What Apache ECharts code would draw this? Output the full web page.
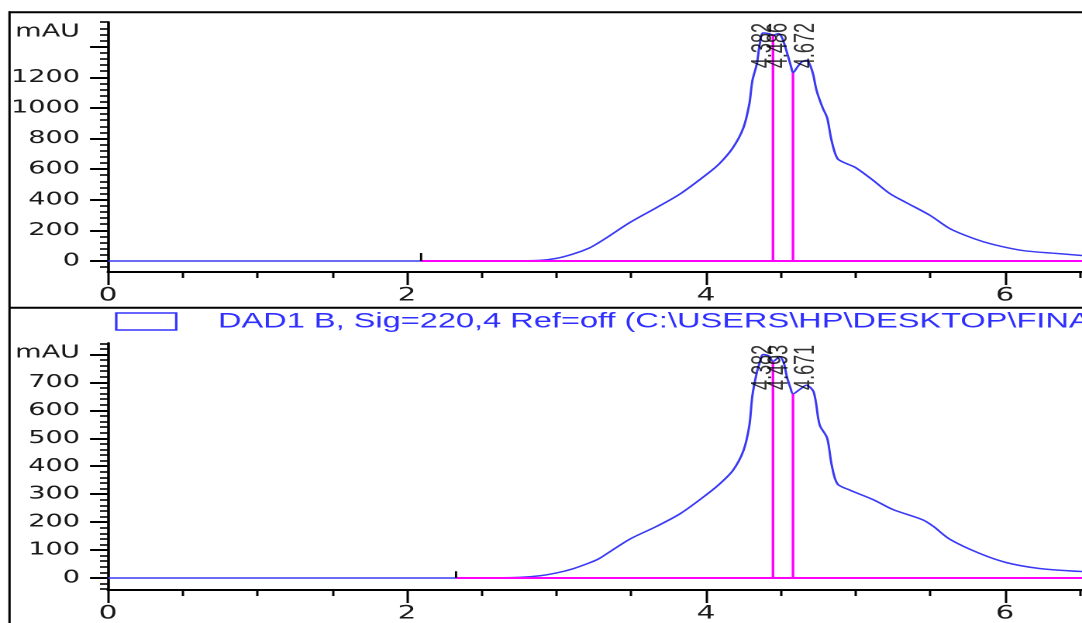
<!DOCTYPE html>
<html>
<head>
<meta charset="utf-8">
<script src="https://cdn.jsdelivr.net/npm/echarts@6/dist/echarts.min.js"></script>
<style>
html,body{margin:0;padding:0;background:#fff;overflow:hidden;width:1082px;height:623px}
#chart{width:698px;height:623px;transform:scaleX(1.55014);transform-origin:0 0}
</style>
</head>
<body>
<div id="chart"></div>
<script>
// ---------- data (retention time in min, signal in mAU) ----------
const timeTop = [0, 1.0, 2.0, 2.5, 2.75, 2.89, 3.0, 3.11, 3.22, 3.28, 3.34, 3.49, 3.67, 3.83, 4.01, 4.09, 4.18, 4.25, 4.29, 4.31, 4.34, 4.36, 4.382, 4.42, 4.448, 4.486, 4.51, 4.545, 4.57, 4.582, 4.61, 4.64, 4.672, 4.71, 4.74, 4.78, 4.81, 4.84, 4.88, 4.94, 5.0, 5.12, 5.23, 5.34, 5.5, 5.63, 5.79, 5.92, 6.12, 6.35, 6.515];
const signalTop = [0, 0, 0, 0, 1, 4, 17, 45, 85, 118, 155, 251, 349, 440, 570, 636, 740, 870, 1027, 1177, 1288, 1420, 1490, 1485, 1475, 1485, 1455, 1350, 1265, 1229, 1265, 1300, 1310, 1242, 1112, 1001, 936, 786, 668, 636, 610, 525, 440, 381, 297, 212, 147, 108, 68, 49, 36];

const timeBot = [0, 1.0, 2.0, 2.5, 2.75, 2.89, 3.0, 3.11, 3.22, 3.28, 3.34, 3.49, 3.67, 3.83, 4.01, 4.09, 4.18, 4.25, 4.29, 4.31, 4.34, 4.36, 4.382, 4.42, 4.448, 4.493, 4.52, 4.54, 4.565, 4.582, 4.63, 4.671, 4.72, 4.76, 4.81, 4.84, 4.88, 4.96, 5.12, 5.25, 5.45, 5.52, 5.63, 5.83, 6.01, 6.23, 6.515];
const signalBot = [0, 0, 0, 0, 2, 8, 18, 33, 54, 68, 88, 139, 185, 231, 301, 336, 385, 455, 546, 652, 736, 771, 800, 795, 775, 792, 770, 722, 680, 659, 676, 690, 666, 548, 501, 406, 336, 315, 280, 245, 208, 185, 139, 88, 55, 34, 23];

const peakTimesTop = [4.382, 4.486, 4.672];
const peakLabelsTop = ['4.382', '4.486', '4.672'];
const peakTimesBot = [4.382, 4.493, 4.671];
const peakLabelsBot = ['4.382', '4.493', '4.671'];
const labelBaseTop = 1260;
const labelBaseBot = 673;

const dropTimesTop = [4.448, 4.582];
const dropHeightsTop = [1475, 1229];
const dropTimesBot = [4.448, 4.582];
const dropHeightsBot = [775, 659];

const intStartTop = 2.094, intStartTickTop = 52;
const intStartBot = 2.328, intStartTickBot = 24;

const seriesNameTop = 'DAD1 A';
const seriesNameBot = 'DAD1 B, Sig=220,4 Ref=off (C:\\USERS\\HP\\DESKTOP\\FINA';

const xMin = 0, xMax = 6.515;
const xMajorTicks = [0, 2, 4, 6];
const xTickLabels = [0, 2, 4, 6];
const yTopRange = [-72, 1561];
const yTopMajorTicks = [0, 200, 400, 600, 800, 1000, 1200, 1400];
const yTopTickLabels = [0, 200, 400, 600, 800, 1000, 1200];
const yBotRange = [-43, 841];
const yBotMajorTicks = [0, 100, 200, 300, 400, 500, 600, 700, 800];
const yBotTickLabels = [0, 100, 200, 300, 400, 500, 600, 700];
const yUnit = 'mAU';

function steps(a, b, st) { const r = []; for (let v = a; v <= b + 1e-9; v += st) r.push(Math.round(v * 1000) / 1000); return r; }
const xMinorTicks = steps(0, 6.5, 0.5);
const yTopMinorTicks = steps(-40, 1560, 40);
const yBotMinorTicks = steps(-40, 840, 20);

// ---------- styling ----------
const S = 1082 / 698;           // horizontal stretch of the original print
const P = v => v / S;
const BLUE = '#3a3af4', MAGENTA = '#ff00ff', INK = '#1a1a1a';
const tickFont = 'DejaVu Sans';
const plain = v => String(v);

function xAxesFor(grid) {
  return [
    { type: 'value', gridIndex: grid, min: xMin, max: xMax, position: 'bottom',
      axisLine: { show: true, onZero: false, lineStyle: { color: '#000', width: 2 } },
      axisTick: { show: true, customValues: xMajorTicks, length: 13, lineStyle: { color: '#000', width: 1.5 } },
      axisLabel: { show: true, customValues: xTickLabels, formatter: plain, margin: 14, fontSize: 19, fontFamily: tickFont, color: INK },
      splitLine: { show: false } },
    { type: 'value', gridIndex: grid, min: xMin, max: xMax, position: 'bottom',
      axisLine: { show: false, onZero: false },
      axisTick: { show: true, customValues: xMinorTicks, length: 6, lineStyle: { color: '#000', width: 1.5 } },
      axisLabel: { show: false }, splitLine: { show: false } }
  ];
}
function yAxesFor(grid, range, majors, labels, minors) {
  return [
    { type: 'value', gridIndex: grid, min: range[0], max: range[1], position: 'left',
      name: yUnit, nameLocation: 'end', nameGap: -10,
      nameTextStyle: { align: 'right', verticalAlign: 'middle', padding: [0, P(28), 0, 0], fontSize: 17.5, fontFamily: tickFont, color: INK },
      axisLine: { show: true, onZero: false, lineStyle: { color: '#000', width: 1.8 } },
      axisTick: { show: true, customValues: majors, length: P(18), lineStyle: { color: '#000', width: 2 } },
      axisLabel: { show: true, customValues: labels, formatter: plain, margin: P(28), fontSize: 17.5, fontFamily: tickFont, color: INK },
      splitLine: { show: false } },
    { type: 'value', gridIndex: grid, min: range[0], max: range[1], position: 'left',
      axisLine: { show: false, onZero: false },
      axisTick: { show: true, customValues: minors, length: P(8), lineStyle: { color: '#000', width: 1.6 } },
      axisLabel: { show: false }, splitLine: { show: false } }
  ];
}

function curve(name, xi, yi, t, s) {
  return { name: name, type: 'line', xAxisIndex: xi, yAxisIndex: yi, data: t.map((v, i) => [v, s[i]]),
    showSymbol: false, smooth: 0.3, lineStyle: { color: BLUE, width: 1.5 }, itemStyle: { color: BLUE }, z: 2, silent: true };
}
function seg(xi, yi, pts, color, width, z) {
  return { type: 'line', xAxisIndex: xi, yAxisIndex: yi, data: pts, showSymbol: false,
    lineStyle: { color: color, width: width }, itemStyle: { color: color }, z: z, silent: true };
}
function peakLabels(xi, yi, times, texts, base) {
  return { type: 'scatter', xAxisIndex: xi, yAxisIndex: yi, symbolSize: 1, silent: true,
    itemStyle: { color: 'rgba(0,0,0,0)' }, data: times.map(t => [t, base]), z: 6,
    label: { show: true, position: 'inside', rotate: 90, align: 'left', verticalAlign: 'middle',
      formatter: p => texts[p.dataIndex], fontSize: 18, fontFamily: 'Liberation Sans', color: '#000' } };
}

const series = [];
series.push(curve(seriesNameTop, 0, 0, timeTop, signalTop));
series.push(seg(0, 0, [[intStartTop, 0], [xMax, 0]], MAGENTA, 2, 3));
dropTimesTop.forEach((t, i) => series.push(seg(0, 0, [[t, 0], [t, dropHeightsTop[i]]], MAGENTA, 1.7, 3)));
series.push(seg(0, 0, [[intStartTop, 0], [intStartTop, intStartTickTop]], '#000', 1.4, 4));
series.push(peakLabels(0, 0, peakTimesTop, peakLabelsTop, labelBaseTop));

series.push(curve(seriesNameBot, 2, 2, timeBot, signalBot));
series.push(seg(2, 2, [[intStartBot, 0], [xMax, 0]], MAGENTA, 2, 3));
dropTimesBot.forEach((t, i) => series.push(seg(2, 2, [[t, 0], [t, dropHeightsBot[i]]], MAGENTA, 1.7, 3)));
series.push(seg(2, 2, [[intStartBot, 0], [intStartBot, intStartTickBot]], '#000', 1.4, 4));
series.push(peakLabels(2, 2, peakTimesBot, peakLabelsBot, labelBaseBot));

const option = {
  animation: false,
  backgroundColor: '#fff',
  grid: [
    { left: P(108), right: 0, top: 22, height: 250 },
    { left: P(108), right: 0, top: 343, height: 252 }
  ],
  xAxis: [].concat(xAxesFor(0), xAxesFor(1)),
  yAxis: [].concat(yAxesFor(0, yTopRange, yTopMajorTicks, yTopTickLabels, yTopMinorTicks),
                   yAxesFor(1, yBotRange, yBotMajorTicks, yBotTickLabels, yBotMinorTicks)),
  legend: {
    data: [seriesNameBot], left: P(115), top: 311, padding: 0, selectedMode: false,
    icon: 'rect', itemWidth: P(60), itemHeight: 17,
    itemStyle: { color: 'rgba(0,0,0,0)', borderColor: '#3434ff', borderWidth: 1.6 },
    textStyle: { color: '#2f2fff', fontSize: 21, fontFamily: 'Liberation Sans', padding: [0, 0, 0, P(34)] }
  },
  graphic: [
    { type: 'line', silent: true, shape: { x1: P(8.5), y1: 12.2, x2: 700, y2: 12.2 }, style: { stroke: '#000', lineWidth: 2 } },
    { type: 'line', silent: true, shape: { x1: P(9.5), y1: 11.2, x2: P(9.5), y2: 630 }, style: { stroke: '#000', lineWidth: 1.5 } },
    { type: 'line', silent: true, shape: { x1: P(9.5), y1: 307.8, x2: 700, y2: 307.8 }, style: { stroke: '#000', lineWidth: 2 } }
  ],
  series: series
};

const chart = echarts.init(document.getElementById('chart'), null, { renderer: 'canvas', devicePixelRatio: 2 });
chart.setOption(option);
</script>
</body>
</html>
